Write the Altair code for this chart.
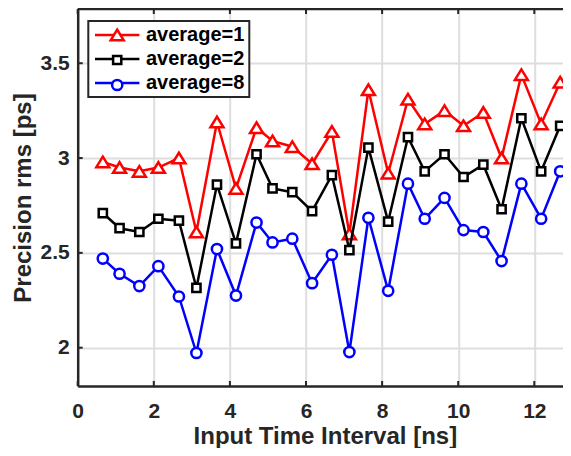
import altair as alt
import pandas as pd

# ---- data ----
x_vals = [0.66, 1.1, 1.62, 2.12, 2.66, 3.12, 3.66, 4.16, 4.7, 5.12, 5.64, 6.16, 6.68,
          7.14, 7.64, 8.16, 8.68, 9.12, 9.64, 10.14, 10.66, 11.14, 11.66, 12.18, 12.68]
avg1 = [2.98, 2.95, 2.93, 2.95, 3.00, 2.61, 3.19, 2.84, 3.16, 3.09, 3.06, 2.97, 3.14,
        2.60, 3.36, 2.92, 3.31, 3.18, 3.25, 3.17, 3.24, 3.00, 3.44, 3.18, 3.40]
avg2 = [2.71, 2.63, 2.61, 2.68, 2.67, 2.315, 2.86, 2.55, 3.02, 2.84, 2.82, 2.72, 2.91,
        2.515, 3.055, 2.665, 3.11, 2.93, 3.02, 2.90, 2.965, 2.73, 3.21, 2.93, 3.17]
avg8 = [2.47, 2.39, 2.325, 2.43, 2.27, 1.972, 2.52, 2.275, 2.66, 2.555, 2.575, 2.34, 2.49,
        1.977, 2.685, 2.30, 2.865, 2.68, 2.79, 2.62, 2.61, 2.457, 2.865, 2.68, 2.93]

series_names = ["average=1", "average=2", "average=8"]
series_colors = ["#ff0000", "#000000", "#0000ff"]
series_shapes = [
    "M0,-1.06L-1.3,1.06L1.3,1.06Z",
    "M-0.82,-0.82H0.82V0.82H-0.82Z",
    "M1.02,0A1.02,1.02,0,1,1,-1.02,0A1.02,1.02,0,1,1,1.02,0Z",
]
x_ticks = [0, 2, 4, 6, 8, 10, 12]
y_ticks = [2, 2.5, 3, 3.5]

rows = []
for name, vals in zip(series_names, [avg1, avg2, avg8]):
    for xv, yv in zip(x_vals, vals):
        rows.append({"x": xv, "y": yv, "series": name, "series_m": name})
df = pd.DataFrame(rows)

PAD_L = 69.7
W = 555 - PAD_L
H = 377
FONT = "Liberation Sans"
AX = "#262626"
GRID = "#dedede"

xscale = alt.Scale(domain=[0, W / 38.05], nice=False, zero=False)
yscale = alt.Scale(domain=[1.798, 3.786], nice=False, zero=False)

xaxis = alt.Axis(
    values=x_ticks, title="Input Time Interval [ns]", grid=True,
    gridColor={"condition": {"test": "datum.value === 0", "value": "transparent"}, "value": GRID},
    gridWidth=2, ticks=False, tickSize=0, domain=True, domainColor=AX, domainWidth=2.5,
    labelFlush=False,
    labelFont=FONT, labelFontSize=21, labelFontWeight="bold", labelColor=AX,
    labelBaseline="alphabetic", labelPadding=31,
    titleFont=FONT, titleFontSize=24, titleFontWeight="bold", titleColor=AX,
    titleBaseline="alphabetic", titleY=57, titleX=(572 - 77.7) / 2,
)
yaxis = alt.Axis(
    values=y_ticks, format="~g", title="Precision rms [ps]", grid=True,
    gridColor=GRID, gridWidth=2, ticks=False, tickSize=0,
    domain=True, domainColor=AX, domainWidth=2.5, labelFlush=False,
    labelFont=FONT, labelFontSize=21, labelFontWeight="bold", labelColor=AX,
    labelPadding=8.4,
    titleFont=FONT, titleFontSize=24, titleFontWeight="bold", titleColor=AX,
    titleBaseline="alphabetic", titleX=-47, titleY=H / 2, titleAngle=270,
)

common_legend = dict(
    orient="none", legendX=10.6, legendY=12, title=None, padding=4, rowPadding=4,
    symbolOffset=14.9, labelOffset=18.7, labelFont=FONT, labelFontSize=20,
    labelFontWeight="bold", symbolSize=100, symbolStrokeWidth=2.5,
)
line_legend = alt.Legend(symbolType="M-4.44,0H4.44", labelColor="#000000",
                         labelExpr="datum.label + ' '",
                         strokeColor=AX, fillColor="white", **common_legend)
pt_legend = alt.Legend(labelExpr="''", symbolFillColor="white", **common_legend)

base = alt.Chart(df)
layers = []
for name in series_names:
    sub = base.transform_filter(alt.datum.series == name)
    line = sub.mark_line(strokeWidth=2.5).encode(
        x=alt.X("x:Q", scale=xscale, axis=xaxis),
        y=alt.Y("y:Q", scale=yscale, axis=yaxis),
        color=alt.Color("series:N", scale=alt.Scale(domain=series_names, range=series_colors),
                        legend=line_legend),
    )
    pts = sub.mark_point(filled=True, fill="white", opacity=1, strokeWidth=2.5, size=100).encode(
        x=alt.X("x:Q", scale=xscale, axis=xaxis),
        y=alt.Y("y:Q", scale=yscale, axis=yaxis),
        stroke=alt.Stroke("series_m:N", scale=alt.Scale(range=series_colors), legend=pt_legend),
        shape=alt.Shape("series_m:N", scale=alt.Scale(range=series_shapes), legend=pt_legend),
    )
    layers += [line, pts]

xt = pd.DataFrame({"x": x_ticks})
yt = pd.DataFrame({"y": y_ticks})
one = pd.DataFrame({"k": [0]})
tick_b = alt.Chart(xt).mark_rule(color=AX, strokeWidth=2).encode(
    x=alt.X("x:Q", scale=xscale, axis=xaxis), y=alt.value(H), y2=alt.value(H - 5))
tick_t = alt.Chart(xt).mark_rule(color=AX, strokeWidth=2).encode(
    x=alt.X("x:Q", scale=xscale, axis=xaxis), y=alt.value(0), y2=alt.value(5))
tick_l = alt.Chart(yt).mark_rule(color=AX, strokeWidth=2).encode(
    y=alt.Y("y:Q", scale=yscale, axis=yaxis), x=alt.value(0), x2=alt.value(5))
top_frame = alt.Chart(one).mark_rule(color=AX, strokeWidth=2.5).encode(
    x=alt.value(0), x2=alt.value(W), y=alt.value(0))
layers += [tick_b, tick_t, tick_l, top_frame]

chart = alt.layer(*layers).properties(
    width=W, height=H,
    padding={"left": PAD_L, "top": 1, "right": 0, "bottom": 62},
    autosize=alt.AutoSizeParams(type="none"),
    background="white",
).configure_view(stroke=None).configure_legend(strokeWidth=2)

chart.save("out.html", embed_options={"renderer": "svg", "actions": False})
